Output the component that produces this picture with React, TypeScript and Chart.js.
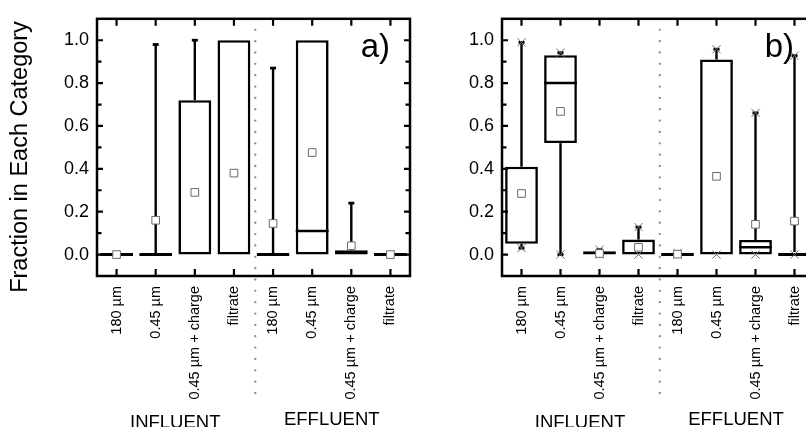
import React, { useEffect, useRef } from 'react';
import { Chart, registerables } from 'chart.js';

Chart.register(...registerables);

const FONT = "'Liberation Sans', Arial, Helvetica, sans-serif";

const categories = ['180 µm', '0.45 µm', '0.45 µm + charge', 'filtrate', '180 µm', '0.45 µm', '0.45 µm + charge', 'filtrate'];
const groupLabels = ['INFLUENT', 'EFFLUENT'];
const yTickValues = [0, 0.2, 0.4, 0.6, 0.8, 1.0];
const yTitle = 'Fraction in Each Category';

// Panel a)
const aQ1 = [0, 0, 0, 0, 0, 0, 0, 0];
const aQ3 = [0, 0, 0.72, 1.0, 0, 1.0, 0.02, 0];
const aMedian = [0, 0, 0, 0, 0, 0.11, 0, 0];
const aMean = [0, 0.16, 0.29, 0.38, 0.145, 0.476, 0.041, 0];
const aLow = [0, 0, 0, 0, 0, 0, 0, 0];
const aHigh = [0, 0.98, 1.0, 1.0, 0.87, 1.0, 0.24, 0];

// Panel b)
const bQ1 = [0.05, 0.52, 0, 0, 0, 0, 0, 0];
const bQ3 = [0.41, 0.93, 0.015, 0.07, 0.004, 0.91, 0.068, 0.012];
const bMedian = [0.05, 0.8, 0, 0, 0, 0, 0.034, 0];
const bMean = [0.285, 0.668, 0.005, 0.034, 0.002, 0.365, 0.141, 0.156];
const bLow = [0.03, 0, 0, 0, 0, 0, 0, 0];
const bHigh = [0.99, 0.942, 0.023, 0.128, 0.008, 0.958, 0.661, 0.928];
const bMin = [0.03, 0, 0, 0, 0, 0, 0, 0];
const bMax = [0.99, 0.942, 0.023, 0.128, 0.008, 0.958, 0.661, 0.928];

type PanelCfg = {
  letter: string;
  q1: number[];
  q3: number[];
  median: number[];
  mean: number[];
  low: number[];
  high: number[];
  min?: number[];
  max?: number[];
  showTitle: boolean;
  axisWidth: number;
  padRight: number;
};

function makePlugin(cfg: PanelCfg) {
  return {
    id: 'boxExtras',
    afterDatasetDraw(chart: any, args: any) {
      if (args.meta.type !== 'bar') return;
      const ctx = chart.ctx;
      const x = chart.scales.x;
      const y = chart.scales.y;
      ctx.save();
      ctx.strokeStyle = '#000';
      args.meta.data.forEach((bar: any, i: number) => {
        const cx = x.getPixelForValue(i);
        const w = bar.width;
        const med = cfg.median[i];
        if (med > cfg.q1[i] && med < cfg.q3[i]) {
          ctx.lineWidth = 2.5;
          ctx.beginPath();
          ctx.moveTo(cx - w / 2, y.getPixelForValue(med));
          ctx.lineTo(cx + w / 2, y.getPixelForValue(med));
          ctx.stroke();
        }
        const drawWhisker = (from: number, to: number) => {
          const y0 = y.getPixelForValue(from);
          const y1 = y.getPixelForValue(to);
          ctx.lineWidth = 2.4;
          ctx.beginPath();
          ctx.moveTo(cx, y0);
          ctx.lineTo(cx, y1);
          ctx.stroke();
          ctx.lineWidth = 2.8;
          ctx.beginPath();
          ctx.moveTo(cx - 3, y1);
          ctx.lineTo(cx + 3, y1);
          ctx.stroke();
        };
        if (cfg.high[i] > cfg.q3[i] + 0.003) drawWhisker(cfg.q3[i], cfg.high[i]);
        if (cfg.low[i] < cfg.q1[i] - 0.003) drawWhisker(cfg.q1[i], cfg.low[i]);
      });
      ctx.restore();
    },
    afterDraw(chart: any) {
      const ctx = chart.ctx;
      const x = chart.scales.x;
      const y = chart.scales.y;
      const { left, right, top, bottom } = chart.chartArea;
      ctx.save();
      // dotted divider
      const dx = (x.getPixelForValue(3) + x.getPixelForValue(4)) / 2 + 1.8;
      ctx.fillStyle = '#8a8a8a';
      for (let yy = top + 11; yy <= 403; yy += 11.35) {
        ctx.beginPath();
        ctx.arc(dx, yy, 1.15, 0, Math.PI * 2);
        ctx.fill();
      }
      // frame
      ctx.strokeStyle = '#000';
      ctx.lineWidth = 2.5;
      ctx.strokeRect(left, top, right - left, bottom - top);
      // x ticks (inward, top and bottom)
      ctx.lineWidth = 2.2;
      categories.forEach((_, i) => {
        const px = x.getPixelForValue(i);
        ctx.beginPath();
        ctx.moveTo(px, bottom);
        ctx.lineTo(px, bottom - 7);
        ctx.moveTo(px, top);
        ctx.lineTo(px, top + 7);
        ctx.stroke();
      });
      // y ticks (inward, left and right), major every 0.2, minor every 0.1
      for (let k = 0; k <= 10; k++) {
        const v = k / 10;
        const py = y.getPixelForValue(v);
        const len = k % 2 === 0 ? 6 : 4.5;
        ctx.beginPath();
        ctx.moveTo(left, py);
        ctx.lineTo(left + len, py);
        ctx.moveTo(right, py);
        ctx.lineTo(right - len, py);
        ctx.stroke();
      }
      // group labels
      ctx.fillStyle = '#000';
      ctx.font = `18.5px ${FONT}`;
      ctx.textAlign = 'center';
      ctx.textBaseline = 'alphabetic';
      const g1 = (x.getPixelForValue(0) + x.getPixelForValue(3)) / 2;
      const g2 = (x.getPixelForValue(4) + x.getPixelForValue(7)) / 2;
      ctx.fillText(groupLabels[0], g1, 428);
      ctx.fillText(groupLabels[1], g2, 425);
      // panel letter
      ctx.font = `33px ${FONT}`;
      ctx.textAlign = 'right';
      ctx.fillText(cfg.letter, right - 20, 57);
      // y title
      if (cfg.showTitle) {
        ctx.save();
        ctx.translate(21, 157);
        ctx.rotate(-Math.PI / 2);
        ctx.font = `23.5px ${FONT}`;
        ctx.textAlign = 'center';
        ctx.textBaseline = 'middle';
        ctx.fillText(yTitle, 0, 0);
        ctx.restore();
      }
      ctx.restore();
    },
  };
}

function buildConfig(cfg: PanelCfg): any {
  const datasets: any[] = [
    {
      type: 'line',
      label: 'mean',
      data: cfg.mean,
      showLine: false,
      pointStyle: 'rect',
      pointRadius: 5.4,
      pointBorderWidth: 1,
      pointBorderColor: '#6a6a6a',
      pointBackgroundColor: '#ffffff',
      order: 1,
    },
  ];
  if (cfg.max && cfg.min) {
    datasets.push({
      type: 'line',
      label: 'max',
      data: cfg.max,
      showLine: false,
      pointStyle: 'crossRot',
      pointRadius: 5.8,
      pointBorderWidth: 1,
      pointBorderColor: '#707070',
      order: 2,
    });
    datasets.push({
      type: 'line',
      label: 'min',
      data: cfg.min,
      showLine: false,
      pointStyle: 'crossRot',
      pointRadius: 5.8,
      pointBorderWidth: 1,
      pointBorderColor: '#707070',
      order: 2,
    });
  }
  datasets.push({
    type: 'bar',
    label: 'box',
    data: cfg.q1.map((v, i) => [v, cfg.q3[i]]),
    backgroundColor: '#ffffff',
    borderColor: '#000000',
    borderWidth: 2.6,
    borderSkipped: false,
    minBarLength: 3,
    barPercentage: 0.84,
    categoryPercentage: 1,
    order: 3,
  });
  return {
    type: 'bar',
    data: { labels: categories, datasets },
    options: {
      responsive: false,
      maintainAspectRatio: false,
      animation: false,
      events: [],
      layout: { padding: { left: 0, right: cfg.padRight, top: 12, bottom: 0 } },
      plugins: { legend: { display: false }, tooltip: { enabled: false }, title: { display: false } },
      scales: {
        x: {
          type: 'category',
          offset: true,
          grid: { display: false, drawTicks: false },
          border: { display: false },
          ticks: {
            autoSkip: false,
            minRotation: 90,
            maxRotation: 90,
            padding: 10,
            color: '#000',
            font: { family: FONT, size: 14.5 },
          },
          afterFit: (s: any) => {
            s.height = 151;
          },
        },
        y: {
          type: 'linear',
          min: -0.1,
          max: 1.1,
          grid: { display: false, drawTicks: false },
          border: { display: false },
          afterBuildTicks: (s: any) => {
            s.ticks = yTickValues.map((v) => ({ value: v }));
          },
          ticks: {
            padding: 8,
            color: '#000',
            font: { family: FONT, size: 18 },
            callback: (v: any) => Number(v).toFixed(1),
          },
          afterFit: (s: any) => {
            s.width = cfg.axisWidth;
          },
        },
      },
    },
    plugins: [makePlugin(cfg)],
  };
}

function Panel({ left, width, cfg }: { left: number; width: number; cfg: PanelCfg }) {
  const ref = useRef<HTMLCanvasElement | null>(null);
  useEffect(() => {
    if (!ref.current) return;
    const chart = new Chart(ref.current, buildConfig(cfg));
    return () => chart.destroy();
  }, []);
  return (
    <canvas
      ref={ref}
      width={width}
      height={427}
      style={{ position: 'absolute', left, top: 0, width, height: 427, display: 'block' }}
    />
  );
}

const panelA: PanelCfg = {
  letter: 'a)',
  q1: aQ1,
  q3: aQ3,
  median: aMedian,
  mean: aMean,
  low: aLow,
  high: aHigh,
  showTitle: true,
  axisWidth: 97,
  padRight: 10,
};

const panelB: PanelCfg = {
  letter: 'b)',
  q1: bQ1,
  q3: bQ3,
  median: bMedian,
  mean: bMean,
  low: bLow,
  high: bHigh,
  min: bMin,
  max: bMax,
  showTitle: false,
  axisWidth: 82,
  padRight: 26,
};

export default function App() {
  return (
    <div
      style={{
        position: 'fixed',
        left: 0,
        top: 0,
        width: 806,
        height: 427,
        overflow: 'hidden',
        background: '#fff',
      }}
    >
      <Panel left={0} width={420} cfg={panelA} />
      <Panel left={420} width={420} cfg={panelB} />
    </div>
  );
}
